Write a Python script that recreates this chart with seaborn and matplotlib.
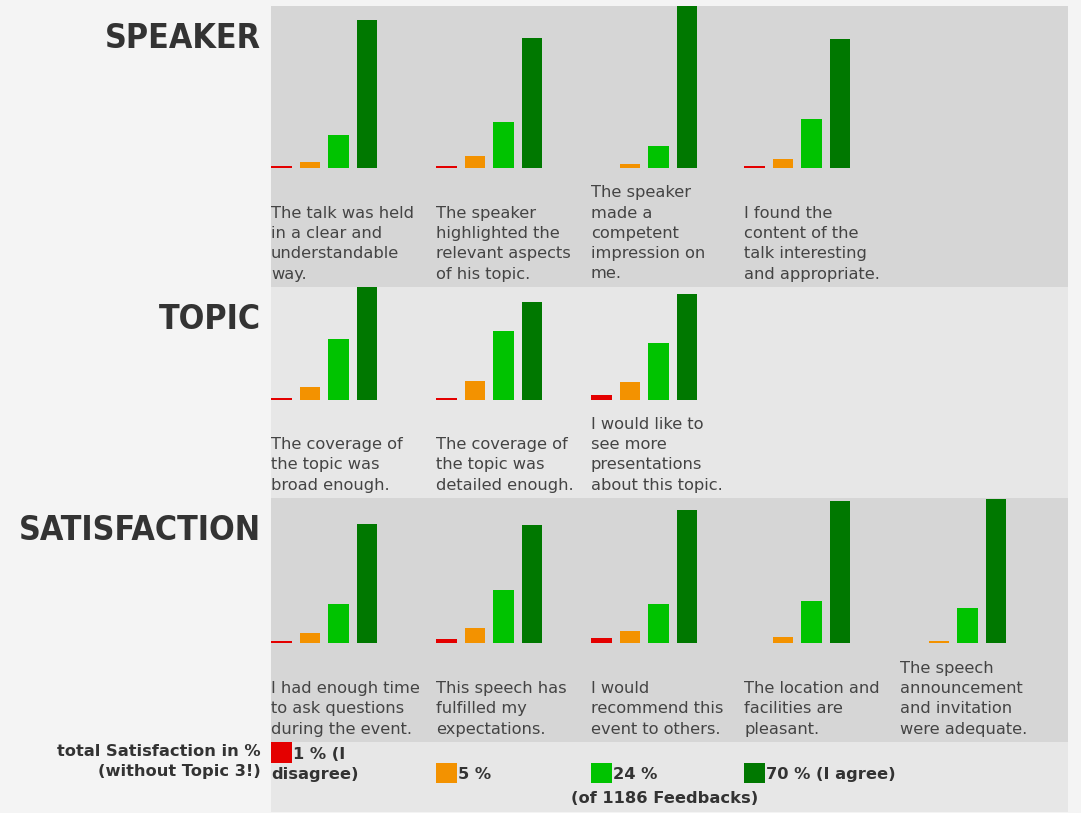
import numpy as np
import pandas as pd
import seaborn as sns
import matplotlib.pyplot as plt
from matplotlib.patches import Rectangle

# ---- data (percent of answers) ----
levels = ["disagree", "rather disagree", "rather agree", "agree"]
level_colors = ["#e40000", "#f39200", "#00c300", "#007800"]

speaker_questions = [
    "The talk was held\nin a clear and\nunderstandable\nway.",
    "The speaker\nhighlighted the\nrelevant aspects\nof his topic.",
    "The speaker\nmade a\ncompetent\nimpression on\nme.",
    "I found the\ncontent of the\ntalk interesting\nand appropriate.",
]
speaker_values = [
    [1.0, 3.5, 17.7, 77.9],
    [1.0, 6.3, 24.2, 68.6],
    [0.0, 2.1, 11.9, 85.3],
    [1.0, 4.9, 25.8, 68.1],
]

topic_questions = [
    "The coverage of\nthe topic was\nbroad enough.",
    "The coverage of\nthe topic was\ndetailed enough.",
    "I would like to\nsee more\npresentations\nabout this topic.",
]
topic_values = [
    [1.3, 7.1, 32.2, 59.7],
    [1.3, 10.3, 36.7, 51.7],
    [2.8, 9.5, 30.4, 56.0],
]

satisfaction_questions = [
    "I had enough time\nto ask questions\nduring the event.",
    "This speech has\nfulfilled my\nexpectations.",
    "I would\nrecommend this\nevent to others.",
    "The location and\nfacilities are\npleasant.",
    "The speech\nannouncement\nand invitation\nwere adequate.",
]
satisfaction_values = [
    [1.2, 5.6, 20.7, 62.9],
    [2.1, 7.9, 27.9, 62.4],
    [2.6, 6.5, 20.7, 70.2],
    [0.0, 3.5, 22.1, 74.7],
    [0.0, 1.0, 18.4, 76.0],
]

total_pct = [1, 5, 24, 70]
total_suffix = [" (I\ndisagree)", "", "", " (I agree)"]
n_feedbacks = 1186

# ---- layout (pixels of a 1081x813 canvas) ----
W, H = 1081, 813
PX_PER_PCT = 1.9
SLOT = 28.6
BAR_W = 20.5
group_x = [271, 436, 591, 744, 900]
panel_left, panel_right = 271, 1068

sections = [
    # title, questions, values, panel top, baseline, panel bottom, colour
    ("SPEAKER", speaker_questions, speaker_values, 6, 168.3, 287, "#d6d6d6"),
    ("TOPIC", topic_questions, topic_values, 287, 400.5, 498, "#e7e7e7"),
    ("SATISFACTION", satisfaction_questions, satisfaction_values, 498, 643.3, 742, "#d6d6d6"),
]


def fx(x):
    return x / W


def fy(y):
    return 1 - y / H


sns.set_style("white")
plt.rcParams["font.family"] = ["DejaVu Sans"]

fig = plt.figure(figsize=(W / 100, H / 100), dpi=100, facecolor="#f4f4f4")

for title, questions, values, top, base, bottom, bg in sections:
    fig.add_artist(Rectangle((fx(panel_left), fy(bottom)), (panel_right - panel_left) / W,
                             (bottom - top) / H, transform=fig.transFigure,
                             facecolor=bg, edgecolor="none", zorder=0))
    fig.text(fx(261), fy(top + 42), title, ha="right", va="baseline", fontsize=24.3,
             fontweight="bold", fontstretch="condensed", color="#333333")

    for i, (q, vals) in enumerate(zip(questions, values)):
        x0 = group_x[i] - (SLOT - BAR_W) / 2
        ax = fig.add_axes([fx(x0), fy(base), 4 * SLOT / W, (base - top) / H])
        df = pd.DataFrame({"level": levels, "pct": vals})
        sns.barplot(data=df, x="level", y="pct", hue="level", order=levels, hue_order=levels,
                    palette=level_colors, saturation=1, width=BAR_W / SLOT, legend=False,
                    linewidth=0, edgecolor="none", ax=ax)
        ax.set_xlim(-0.5, 3.5)
        ax.set_ylim(0, (base - top) / PX_PER_PCT)
        ax.set_axis_off()
        ax.patch.set_alpha(0)

        fig.text(fx(group_x[i]), fy(bottom - 5.5), q, ha="left", va="bottom",
                 fontsize=11.7, color="#444444", linespacing=1.44)

# ---- bottom legend row ----
fig.add_artist(Rectangle((fx(panel_left), fy(812)), (panel_right - panel_left) / W, 70 / H,
                         transform=fig.transFigure, facecolor="#e7e7e7", edgecolor="none", zorder=0))
fig.text(fx(261), fy(744), "total Satisfaction in %\n(without Topic 3!)", ha="right", va="top",
         fontsize=11.7, fontweight="bold", color="#333333", linespacing=1.43)

for i, (p, suf, col) in enumerate(zip(total_pct, total_suffix, level_colors)):
    x0 = group_x[i]
    label = f"{p} %{suf}"
    if "\n" in label:
        first, second = label.split("\n")
        sq_top = 742
        fig.add_artist(Rectangle((fx(x0), fy(sq_top + 20.5)), 20.5 / W, 20.5 / H,
                                 transform=fig.transFigure, facecolor=col, edgecolor="none"))
        fig.text(fx(x0 + 22), fy(754.5), first, ha="left", va="center",
                 fontsize=11.7, fontweight="bold", color="#333333")
        fig.text(fx(x0), fy(774.5), second, ha="left", va="center",
                 fontsize=11.7, fontweight="bold", color="#333333")
    else:
        sq_top = 762.5
        fig.add_artist(Rectangle((fx(x0), fy(sq_top + 20.5)), 20.5 / W, 20.5 / H,
                                 transform=fig.transFigure, facecolor=col, edgecolor="none"))
        fig.text(fx(x0 + 22), fy(774.5), label, ha="left", va="center",
                 fontsize=11.7, fontweight="bold", color="#333333")

fig.text(fx(665), fy(798.5), f"(of {n_feedbacks} Feedbacks)", ha="center", va="center",
         fontsize=11.7, fontweight="bold", color="#333333")

fig.savefig("out.png", dpi=100, facecolor=fig.get_facecolor())
